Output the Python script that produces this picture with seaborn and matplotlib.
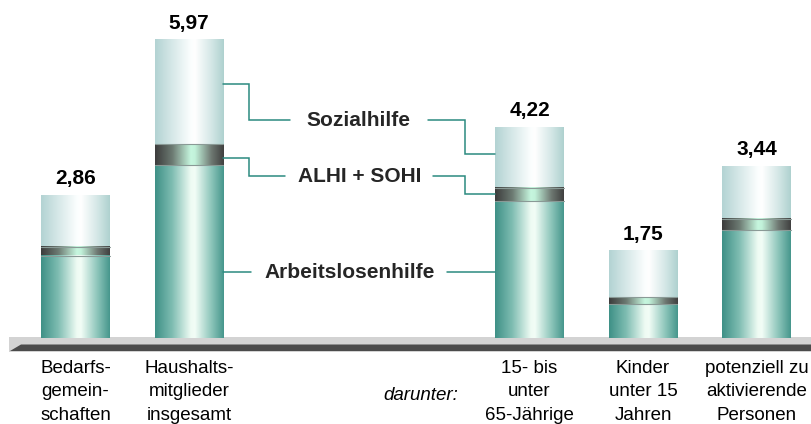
import numpy as np
import pandas as pd
import seaborn as sns
import matplotlib
matplotlib.use("Agg")
import matplotlib.pyplot as plt
from matplotlib.colors import LinearSegmentedColormap
from matplotlib.patches import Polygon

# ====== Data (Mio. Personen) ======
categories = ["Bedarfs-\ngemein-\nschaften", "Haushalts-\nmitglieder\ninsgesamt",
              "15- bis\nunter\n65-Jährige", "Kinder\nunter 15\nJahren",
              "potenziell zu\naktivierende\nPersonen"]
positions = [0, 1, 4, 5, 6]
arbeitslosenhilfe = [1.65, 3.46, 2.74, 0.68, 2.16]
alhi_sohi = [0.18, 0.42, 0.27, 0.14, 0.23]
sozialhilfe = [1.03, 2.09, 1.21, 0.93, 1.05]
totals = ["2,86", "5,97", "4,22", "1,75", "3,44"]

df = pd.DataFrame({"pos": positions, "alhi": arbeitslosenhilfe,
                   "band": alhi_sohi, "sohi": sozialhilfe})
df["lower"] = df["alhi"]
df["middle"] = df["alhi"] + df["band"]
df["total"] = df["middle"] + df["sohi"]

sns.set_style("white")
plt.rcParams["font.family"] = ["Liberation Sans", "DejaVu Sans"]

# pixel helpers for the annotation layout (chart is 811 x 424 px)
def X(px):
    return (px - 75.5) / 113.5

def Y(py):
    return (338 - py) / 50.0

fig = plt.figure(figsize=(8.11, 4.24), dpi=100)
ax = fig.add_axes([0, 0, 1, 1])

# gradient colour maps (left edge -> highlight -> right edge)
stops = [0, 0.25, 0.52, 0.58, 0.82, 1]
cm_alhi = LinearSegmentedColormap.from_list("alhi", list(zip(stops,
    ["#3e9086", "#7fbdb2", "#eefbf3", "#f2fdf6", "#8cc5ba", "#46968c"])))
cm_sohi = LinearSegmentedColormap.from_list("sohi", list(zip(stops,
    ["#b3d3d3", "#d6e8e8", "#fbfefe", "#ffffff", "#d4e7e6", "#aed1cf"])))
cm_band = LinearSegmentedColormap.from_list("band", list(zip(stops,
    ["#3c3c3c", "#6c7a72", "#c6f6de", "#c2f2da", "#6e7872", "#404040"])))

# stacked bars: draw cumulative heights back to front
layers = [("total", cm_sohi), ("middle", cm_band), ("lower", cm_alhi)]
grad = np.linspace(0, 1, 256).reshape(1, -1)
z = 2
for col, cmap in layers:
    n_before = len(ax.patches)
    sns.barplot(data=df, x="pos", y=col, native_scale=True, width=0.6,
                color="white", ax=ax)
    for patch in ax.patches[n_before:]:
        x0, y0 = patch.get_x(), patch.get_y()
        w, h = patch.get_width(), patch.get_height()
        patch.set_facecolor("none")
        patch.set_edgecolor("none")
        ax.imshow(grad, extent=[x0, x0 + w, y0, y0 + h], aspect="auto",
                  cmap=cmap, interpolation="bilinear", zorder=z)
        if col != "total":
            ax.plot([x0, x0 + w], [y0 + h, y0 + h], color="#8a9a96",
                    lw=0.8, zorder=z + 0.5)
    z += 1

# floor
ax.add_patch(Polygon([(X(9), Y(337)), (X(811), Y(337)), (X(811), Y(352)),
                      (X(9), Y(352))], closed=True, facecolor="#d3d3d3",
                     edgecolor="none", zorder=1))
ax.add_patch(Polygon([(X(10), Y(351)), (X(21), Y(344.5)), (X(811), Y(344.5)),
                      (X(811), Y(351))], closed=True, facecolor="#4b4b4b",
                     edgecolor="none", zorder=1.5))

# value labels
for p, top, lab in zip(df["pos"], df["total"], totals):
    ax.text(p, top + 0.14, lab, ha="center", va="bottom", fontsize=15,
            fontweight="bold", color="black", zorder=6)

# category labels
for p, lab in zip(positions, categories):
    ax.text(p, Y(360), lab, ha="center", va="top", fontsize=13.5,
            linespacing=1.5, color="black")
ax.text(X(421), Y(395), "darunter:", ha="center", va="center", fontsize=13.5,
        style="italic", color="black")

# series labels with connector lines
line_col = "#2b8a80"
connectors = [
    [(223, 84), (249, 84), (249, 120), (290, 120)],
    [(428, 120), (465, 120), (465, 154), (495, 154)],
    [(223, 158), (249, 158), (249, 176), (285, 176)],
    [(433, 176), (465, 176), (465, 194), (495, 194)],
    [(223, 272), (251, 272)],
    [(447, 272), (495, 272)],
]
for pts in connectors:
    ax.plot([X(a) for a, b in pts], [Y(b) for a, b in pts], color=line_col,
            lw=1.1, zorder=7, solid_joinstyle="miter")
ax.text(X(358), Y(120), "Sozialhilfe", ha="center", va="center",
        fontsize=15, fontweight="bold", zorder=7)
ax.text(X(360), Y(176), "ALHI + SOHI", ha="center", va="center",
        fontsize=15, fontweight="bold", zorder=7)
ax.text(X(350), Y(272), "Arbeitslosenhilfe", ha="center", va="center",
        fontsize=15, fontweight="bold", zorder=7)

ax.set_xlim(X(0), X(811))
ax.set_ylim(Y(424), Y(0))
ax.axis("off")

fig.savefig("out.png", dpi=100)
